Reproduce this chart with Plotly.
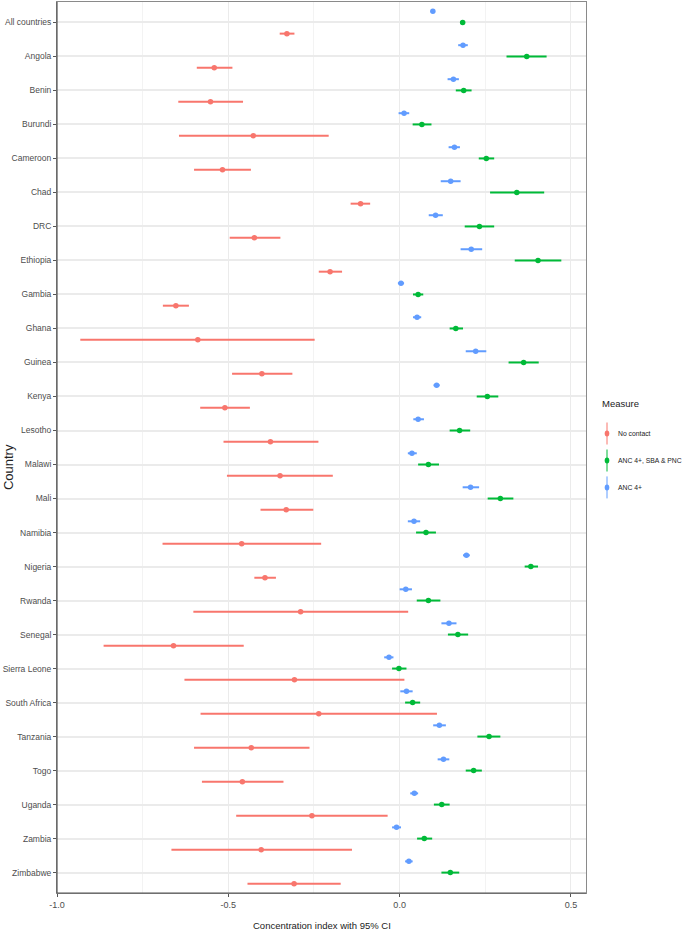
import numpy as np
import plotly.graph_objects as go

countries = ["All countries", "Angola", "Benin", "Burundi", "Cameroon", "Chad", "DRC",
             "Ethiopia", "Gambia", "Ghana", "Guinea", "Kenya", "Lesotho", "Malawi", "Mali",
             "Namibia", "Nigeria", "Rwanda", "Senegal", "Sierra Leone", "South Africa",
             "Tanzania", "Togo", "Uganda", "Zambia", "Zimbabwe"]

# No contact
nc_est = [-0.329, -0.541, -0.552, -0.427, -0.517, -0.114, -0.424, -0.203, -0.653, -0.589,
          -0.402, -0.510, -0.377, -0.349, -0.331, -0.461, -0.393, -0.289, -0.660, -0.307,
          -0.236, -0.433, -0.459, -0.256, -0.404, -0.308]
nc_lo = [-0.350, -0.592, -0.646, -0.644, -0.600, -0.143, -0.496, -0.236, -0.691, -0.932,
         -0.489, -0.582, -0.514, -0.504, -0.406, -0.692, -0.424, -0.602, -0.864, -0.628,
         -0.581, -0.600, -0.577, -0.477, -0.666, -0.444]
nc_hi = [-0.307, -0.488, -0.457, -0.207, -0.434, -0.086, -0.348, -0.168, -0.615, -0.248,
         -0.313, -0.437, -0.237, -0.195, -0.252, -0.229, -0.361, 0.025, -0.455, 0.014,
         0.109, -0.263, -0.339, -0.035, -0.139, -0.172]

# ANC 4+, SBA & PNC
sp_est = [0.184, 0.371, 0.187, 0.065, 0.253, 0.342, 0.233, 0.404, 0.054, 0.164,
          0.362, 0.256, 0.175, 0.084, 0.294, 0.077, 0.383, 0.084, 0.170, -0.002,
          0.038, 0.261, 0.216, 0.123, 0.072, 0.148]
sp_lo = [0.177, 0.312, 0.164, 0.038, 0.231, 0.264, 0.190, 0.336, 0.039, 0.146,
         0.318, 0.225, 0.146, 0.054, 0.257, 0.048, 0.365, 0.050, 0.141, -0.022,
         0.016, 0.227, 0.193, 0.100, 0.051, 0.122]
sp_hi = [0.191, 0.429, 0.210, 0.093, 0.276, 0.422, 0.276, 0.472, 0.069, 0.185,
         0.406, 0.288, 0.206, 0.115, 0.332, 0.106, 0.404, 0.119, 0.200, 0.020,
         0.060, 0.294, 0.240, 0.146, 0.095, 0.174]

# ANC 4+
a4_est = [0.097, 0.185, 0.157, 0.013, 0.160, 0.149, 0.105, 0.209, 0.004, 0.051,
          0.222, 0.108, 0.054, 0.036, 0.207, 0.042, 0.195, 0.018, 0.144, -0.031,
          0.020, 0.116, 0.128, 0.043, -0.009, 0.027]
a4_lo = [0.093, 0.171, 0.140, -0.003, 0.143, 0.120, 0.085, 0.178, -0.005, 0.039,
         0.193, 0.099, 0.040, 0.024, 0.184, 0.024, 0.185, 0.000, 0.122, -0.045,
         0.002, 0.098, 0.111, 0.031, -0.022, 0.016]
a4_hi = [0.101, 0.199, 0.173, 0.028, 0.176, 0.178, 0.126, 0.241, 0.013, 0.063,
         0.253, 0.117, 0.071, 0.050, 0.232, 0.060, 0.205, 0.036, 0.166, -0.018,
         0.038, 0.135, 0.145, 0.054, 0.004, 0.038]

x_ticks = [-1.0, -0.5, 0.0, 0.5]
x_ticktext = ["-1.0", "-0.5", "0.0", "0.5"]

measures = ["No contact", "ANC 4+, SBA & PNC", "ANC 4+"]
colors = ["#F8766D", "#00BA38", "#619CFF"]
offsets = [0.33, 0.0, -0.33]
series = [(nc_est, nc_lo, nc_hi), (sp_est, sp_lo, sp_hi), (a4_est, a4_lo, a4_hi)]

FONT = "Liberation Sans Narrow, Arial Narrow, Liberation Sans, Arial, sans-serif"

idx = np.arange(len(countries))
fig = go.Figure()
for name, col, off, (est, lo, hi) in zip(measures, colors, offsets, series):
    est = np.array(est); lo = np.array(lo); hi = np.array(hi)
    fig.add_trace(go.Scatter(
        x=est, y=idx + off, mode="markers", name=name, showlegend=False,
        marker=dict(color=col, size=5.5, line=dict(width=0)),
        error_x=dict(type="data", symmetric=False, array=hi - est, arrayminus=est - lo,
                     color=col, thickness=2, width=0),
    ))

fig.update_layout(
    width=685, height=933,
    margin=dict(l=57, r=99, t=2, b=40),
    paper_bgcolor="white", plot_bgcolor="white",
    font=dict(family=FONT, color="#333333"),
)
fig.update_xaxes(
    range=[-1.0, 0.544], tickvals=x_ticks, ticktext=x_ticktext,
    showgrid=True, gridcolor="#ebebeb", gridwidth=1,
    minor=dict(tickvals=[-0.75, -0.25, 0.25], showgrid=True, gridcolor="#f3f3f3", gridwidth=0.6, ticks=""),
    zeroline=False, showline=True, linecolor="#8a8a8a", linewidth=1, mirror=True,
    ticks="outside", ticklen=3, tickcolor="#555555",
    tickfont=dict(size=9, color="#4d4d4d", family=FONT),
    automargin=False,
)
fig.update_yaxes(
    range=[len(countries) - 1 + 0.6, -0.6],
    tickvals=idx, ticktext=countries,
    showgrid=True, gridcolor="#ebebeb", gridwidth=1.6,
    zeroline=False, showline=True, linecolor="#8a8a8a", linewidth=1, mirror=True,
    ticks="outside", ticklen=3, tickcolor="#555555",
    tickfont=dict(size=8.5, color="#4d4d4d", family=FONT),
    automargin=False,
)

# Left & bottom axis lines darker (ggplot axis line)
fig.add_shape(type="line", xref="paper", yref="paper", x0=0, x1=0, y0=0, y1=1,
              line=dict(color="#555555", width=1.2))
fig.add_shape(type="line", xref="paper", yref="paper", x0=0, x1=1, y0=0, y1=0,
              line=dict(color="#555555", width=1.2))

# Axis titles
fig.add_annotation(text="Concentration index with 95% CI", xref="paper", yref="paper",
                   x=0.5, y=0, yshift=-32, xanchor="center", yanchor="middle", showarrow=False,
                   font=dict(size=9.5, color="#222222", family=FONT))
fig.add_annotation(text="Country", xref="paper", yref="paper", textangle=-90,
                   x=0, xshift=-49, y=0.478, xanchor="center", yanchor="middle", showarrow=False,
                   font=dict(size=13, color="#222222", family="Liberation Sans, Arial, sans-serif"))

# Manual legend (ggplot pointrange key)
fig.add_annotation(text="Measure", xref="paper", yref="paper", x=1.026, y=0.549,
                   xanchor="left", yanchor="middle", showarrow=False,
                   font=dict(size=9.5, color="#222222", family=FONT))
leg_y = [0.5157, 0.4854, 0.4552]
sym_x = 1.0397
for name, col, yy in zip(measures, colors, leg_y):
    fig.add_shape(type="line", xref="paper", yref="paper", xsizemode="pixel", ysizemode="pixel",
                  xanchor=sym_x, yanchor=yy, x0=0, x1=0, y0=-11, y1=11,
                  line=dict(color=col, width=1))
    fig.add_shape(type="circle", xref="paper", yref="paper", xsizemode="pixel", ysizemode="pixel",
                  xanchor=sym_x, yanchor=yy, x0=-2.3, x1=2.3, y0=-3, y1=3,
                  fillcolor=col, line=dict(color=col, width=0))
    fig.add_annotation(text=name, xref="paper", yref="paper", x=1.0565, y=yy,
                       xanchor="left", yanchor="middle", showarrow=False,
                       font=dict(size=6.8, color="#222222", family=FONT))

fig.write_html("out.html", config={"displayModeBar": False},
               post_script="document.body.style.margin='0px';")
